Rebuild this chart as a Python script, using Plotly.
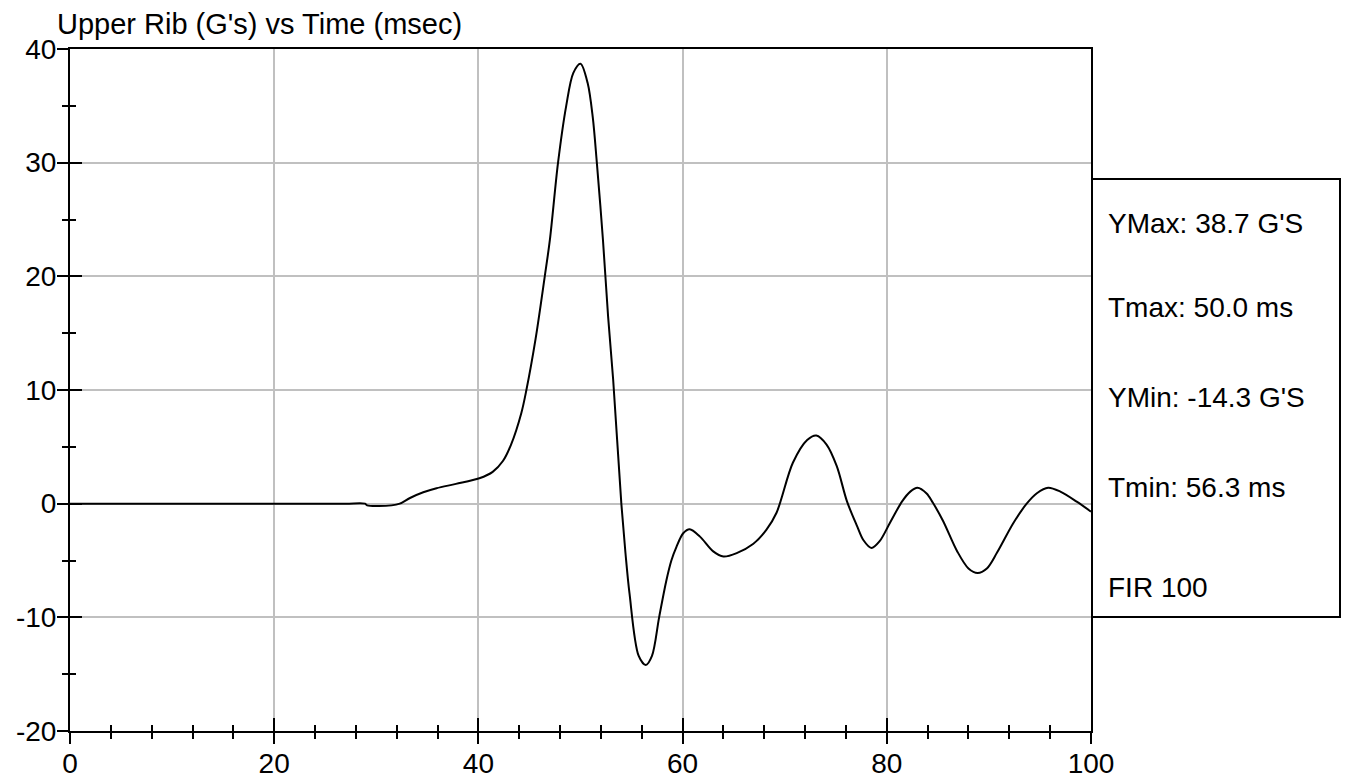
import plotly.graph_objects as go

# ---- data ----
time_ms = [0, 10, 20, 27, 28.9, 29.1, 31.5, 32.3, 33.3, 34.6, 35.9, 37.8, 40.1, 41.4, 42.4,
           43.2, 44.2, 44.7, 45.6, 46.5, 47.0, 47.8, 48.6, 49.3, 50.0, 50.7, 51.2,
           51.6, 52.2, 52.7, 53.2, 54.0, 54.4, 54.8, 55.7, 56.4, 57.0, 57.7, 58.4,
           58.9, 59.4, 60.06, 60.7, 61.7, 63.0, 64.0, 65.3, 66.9, 68.2, 69.2, 70.8,
           72.2, 73.1, 74.1, 75.1, 76.1, 77.1, 77.7, 78.5, 79.3, 80.3, 81.5, 82.3,
           83.0, 83.9, 84.5, 85.5, 86.9, 88.0, 88.9, 89.8, 90.8, 92.4, 93.7, 94.7,
           95.8, 97.0, 98.6, 100]
upper_rib_g = [0, 0, 0, 0, 0, -0.15, -0.15, 0.0, 0.5, 1.0, 1.36, 1.74, 2.24, 2.8, 3.75,
               5.2, 7.96, 10.0, 14.5, 20.0, 23.2, 30.0, 35.0, 37.9, 38.7, 37.0, 34.0,
               30.0, 23.2, 16.5, 10.9, 0.0, -4.3, -7.9, -13.4, -14.2, -13.4, -10.0, -6.8,
               -5.0, -3.8, -2.6, -2.25, -2.9, -4.2, -4.65, -4.35, -3.55, -2.3, -0.8, 3.6,
               5.6, 6.0, 5.2, 3.3, 0.2, -2.0, -3.2, -3.9, -3.3, -1.7, 0.2, 1.06,
               1.4, 0.9, 0.1, -1.5, -4.2, -5.7, -6.1, -5.7, -4.3, -1.7, 0.0, 0.92,
               1.4, 1.06, 0.18, -0.7]

title_text = "Upper Rib (G's) vs Time (msec)"
x_tickvals = [0, 20, 40, 60, 80, 100]
x_ticktext = ["0", "20", "40", "60", "80", "100"]
y_tickvals = [-20, -10, 0, 10, 20, 30, 40]
y_ticktext = ["-20", "-10", "0", "10", "20", "30", "40"]
stats_lines = ["YMax: 38.7 G'S", "Tmax: 50.0 ms", "YMin: -14.3 G'S", "Tmin: 56.3 ms", "FIR 100"]

x_range = [0, 100]
y_range = [-20, 40]

FONT = "Liberation Sans, Arial, sans-serif"
FS = 28
L, R, T, B = 70, 258, 49, 48
W, H = 1349, 779
PW, PH = W - L - R, H - T - B


def px_to_paper_x(px):
    return (px - L) / PW


def px_to_paper_y(py):
    return (H - B - py) / PH


fig = go.Figure()
fig.add_trace(go.Scatter(x=time_ms, y=upper_rib_g, mode="lines",
                         line=dict(color="black", width=2, shape="spline", smoothing=0.9),
                         hoverinfo="skip", showlegend=False))
# invisible companion traces so the overlay axes (extra tick halves) get drawn
for xa, ya in (("x2", "y2"), ("x3", "y3")):
    fig.add_trace(go.Scatter(x=time_ms, y=upper_rib_g, mode="lines", xaxis=xa, yaxis=ya,
                             line=dict(color="rgba(0,0,0,0)", width=1),
                             hoverinfo="skip", showlegend=False))

common_font = dict(family=FONT, size=FS, color="black")
minor_x = dict(ticks="outside", ticklen=6, tickwidth=2, tickcolor="black",
               tick0=0, dtick=4, showgrid=False)
minor_y = dict(ticks="outside", ticklen=6, tickwidth=2, tickcolor="black",
               tick0=-20, dtick=5, showgrid=False)


def overlay_axis(base, rng, vals, side, ticks, ticklen, minor):
    d = dict(range=rng, overlaying=base, side=side, tickmode="array", tickvals=vals,
             automargin=False, showline=False, showticklabels=False, showgrid=False,
             zeroline=False, ticks=ticks, ticklen=ticklen, tickwidth=2, tickcolor="black")
    if minor is not None:
        d["minor"] = minor
    return d


fig.update_layout(
    width=W, height=H,
    margin=dict(l=L, r=R, t=T, b=B, autoexpand=False),
    paper_bgcolor="white", plot_bgcolor="white",
    font=common_font,
    showlegend=False,
    title=dict(text=title_text, x=57 / W, xanchor="left", y=1 - 24 / H, yanchor="middle",
               font=dict(family=FONT, size=29, color="black")),
    xaxis=dict(range=x_range, tickmode="array", tickvals=x_tickvals, ticktext=x_ticktext,
               automargin=False,
               showline=True, linecolor="black", linewidth=2, mirror=True,
               ticks="outside", ticklen=6, tickwidth=2, tickcolor="black",
               minor=minor_x,
               showgrid=True, gridcolor="#c0c0c0", gridwidth=2, zeroline=False,
               tickfont=common_font),
    yaxis=dict(range=y_range, tickmode="array", tickvals=y_tickvals, ticktext=y_ticktext,
               automargin=False,
               showline=True, linecolor="black", linewidth=2, mirror=True,
               ticks="outside", ticklen=6, tickwidth=2, tickcolor="black",
               minor=minor_y,
               showgrid=True, gridcolor="#c0c0c0", gridwidth=2, zeroline=False,
               tickfont=common_font),
    # inner halves of the crossing ticks
    xaxis2=dict(overlay_axis("x", x_range, x_tickvals, "bottom", "inside", 13,
                             dict(minor_x, ticks="inside")), anchor="y2"),
    yaxis2=dict(overlay_axis("y", y_range, y_tickvals, "left", "inside", 12,
                             dict(minor_y, ticks="inside")), anchor="x2"),
    # longer outer halves of the major ticks
    xaxis3=dict(overlay_axis("x", x_range, x_tickvals, "bottom", "outside", 12, None), anchor="y3"),
    yaxis3=dict(overlay_axis("y", y_range, y_tickvals, "left", "outside", 12, None), anchor="x3"),
)

# statistics box at the right of the plot
fig.add_shape(type="rect", xref="paper", yref="paper",
              x0=px_to_paper_x(1092), x1=px_to_paper_x(1340),
              y0=px_to_paper_y(617), y1=px_to_paper_y(179),
              line=dict(color="black", width=2), fillcolor="rgba(0,0,0,0)")
for txt, py in zip(stats_lines, [223, 307, 397, 487, 587]):
    fig.add_annotation(text=txt, xref="paper", yref="paper",
                       x=px_to_paper_x(1106), y=px_to_paper_y(py),
                       xanchor="left", yanchor="middle", showarrow=False,
                       font=dict(family=FONT, size=FS, color="black"))

fig.write_html("out.html", config={"displayModeBar": False},
               post_script="document.body.style.margin='0';")
